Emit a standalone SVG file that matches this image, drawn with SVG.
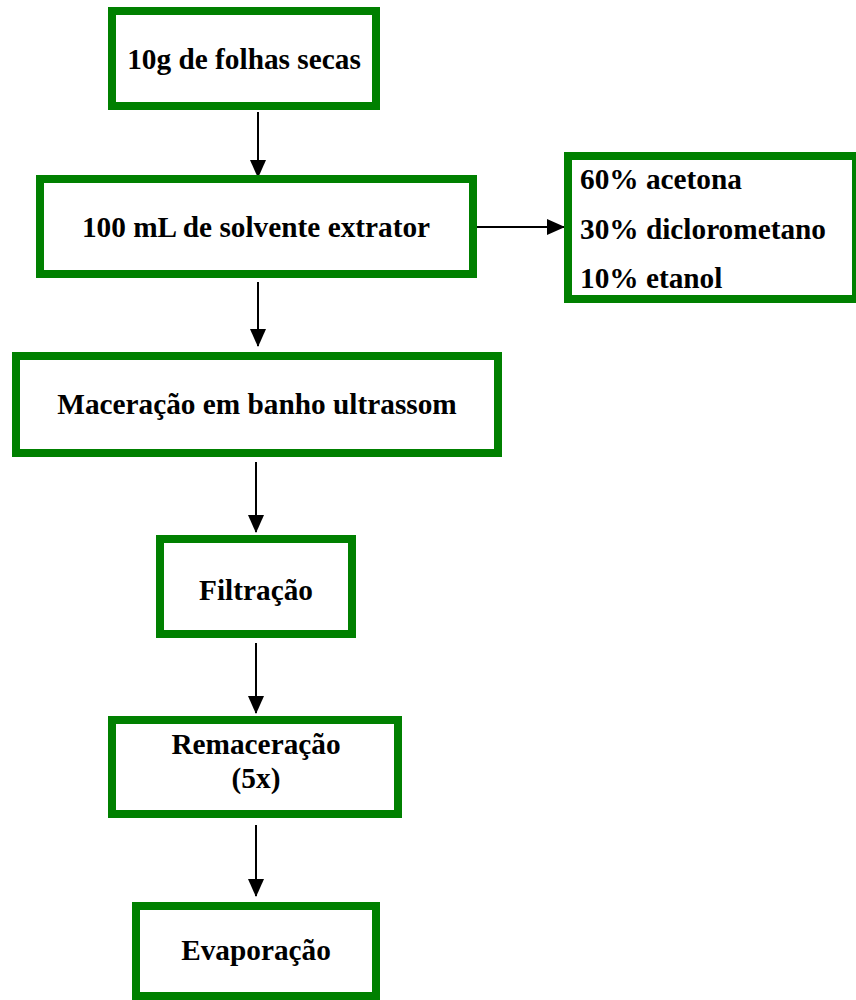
<svg xmlns="http://www.w3.org/2000/svg" width="856" height="1000" viewBox="0 0 856 1000">
<style>
.box{fill:#fff;stroke:#008000;stroke-width:8}
.t{font-family:"Liberation Serif","Times New Roman",serif;font-weight:bold;font-size:29.3px;fill:#000}
.c{text-anchor:middle}
.ln{stroke:#000;stroke-width:2;fill:none}
</style>
<defs>
<marker id="ah" markerUnits="userSpaceOnUse" markerWidth="18" markerHeight="16" refX="17" refY="8" orient="auto">
<path d="M0,0 L18,8 L0,16 Z" fill="#000"/>
</marker>
</defs>
<g id="connectors">
<line class="ln" x1="258" y1="112" x2="258" y2="177" marker-end="url(#ah)"/>
<line class="ln" x1="472" y1="227" x2="564" y2="227" marker-end="url(#ah)"/>
<line class="ln" x1="258" y1="282" x2="258" y2="346" marker-end="url(#ah)"/>
<line class="ln" x1="256" y1="462" x2="256" y2="532" marker-end="url(#ah)"/>
<line class="ln" x1="256" y1="643" x2="256" y2="713" marker-end="url(#ah)"/>
<line class="ln" x1="256" y1="825" x2="256" y2="896" marker-end="url(#ah)"/>
</g>
<g id="n1">
<rect class="box" x="112" y="11" width="264" height="95"/>
<text class="t c" x="244" y="69">10g de folhas secas</text>
</g>
<g id="n2">
<rect class="box" x="40" y="179" width="433" height="95"/>
<text class="t c" x="256" y="237">100 mL de solvente extrator</text>
</g>
<g id="n3">
<rect class="box" x="568" y="156" width="288" height="143"/>
<text class="t" x="580" y="189">60% acetona</text>
<text class="t" x="580" y="239">30% diclorometano</text>
<text class="t" x="580" y="288">10% etanol</text>
</g>
<g id="n4">
<rect class="box" x="16" y="356" width="482" height="97"/>
<text class="t c" x="257" y="414">Maceração em banho ultrassom</text>
</g>
<g id="n5">
<rect class="box" x="160" y="539" width="192" height="95"/>
<text class="t c" x="256" y="600">Filtração</text>
</g>
<g id="n6">
<rect class="box" x="112" y="720" width="286" height="94"/>
<text class="t c" x="256" y="754">Remaceração</text>
<text class="t c" x="256" y="788">(5x)</text>
</g>
<g id="n7">
<rect class="box" x="136" y="906" width="240" height="90"/>
<text class="t c" x="256" y="960">Evaporação</text>
</g>
</svg>
